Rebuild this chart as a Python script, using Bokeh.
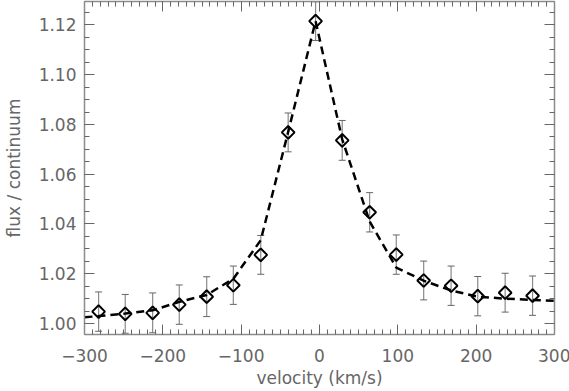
import numpy as np
from bokeh.plotting import figure
from bokeh.models import (ColumnDataSource, Whisker, TeeHead, LinearAxis, FixedTicker,
                          Range1d, CustomJSTickFormatter, CustomLabelingPolicy)
from bokeh.embed import file_html
from bokeh.resources import INLINE

# data points
vel = [-282, -248, -213, -179, -144, -110, -75, -40, -5, 29, 64, 98, 133, 168, 202, 237, 272]
flux = [1.0048, 1.0039, 1.0043, 1.0076, 1.0108, 1.0154, 1.0276, 1.0768, 1.1215, 1.0736,
        1.0447, 1.0277, 1.0173, 1.0152, 1.0110, 1.0124, 1.0112]
err = [0.0079, 0.0078, 0.0080, 0.0079, 0.0080, 0.0077, 0.0078, 0.0078, 0.0078, 0.0080,
       0.0079, 0.0079, 0.0078, 0.0079, 0.0079, 0.0078, 0.0079]

# model curve
model_v = [-300, -282, -248, -213, -179, -144, -110, -75, -40, -5, 29, 64, 98, 133, 168, 202, 237, 272, 300]
model_f = [1.0025, 1.0030, 1.0040, 1.0053, 1.0087, 1.0115, 1.0180, 1.0335, 1.0770, 1.1215, 1.0740,
           1.0410, 1.0225, 1.0172, 1.0133, 1.0108, 1.0100, 1.0095, 1.0091]

x_ticks = [-300, -200, -100, 0, 100, 200, 300]
x_minor = list(range(-300, 301, 10))
y_ticks = [1.00, 1.02, 1.04, 1.06, 1.08, 1.10, 1.12]
y_minor = [round(0.995 + 0.005 * i, 3) for i in range(28)]

FONT = "DejaVu Sans"
TXT = "#666666"

p = figure(frame_width=470, frame_height=333, output_backend="svg", toolbar_location=None,
           x_range=Range1d(-300, 300), y_range=Range1d(0.9956, 1.1294),
           min_border_left=82, min_border_right=16, min_border_top=1, min_border_bottom=50,
           x_axis_label="velocity (km/s)", y_axis_label="flux / continuum")
p.grid.visible = False
p.outline_line_color = None
p.background_fill_color = "white"
p.border_fill_color = "white"

src = ColumnDataSource(dict(x=vel, y=flux,
                            upper=[f + e for f, e in zip(flux, err)],
                            lower=[f - e for f, e in zip(flux, err)]))

wh = Whisker(source=src, base="x", upper="upper", lower="lower", dimension="height",
             line_color="#8a8a8a", line_width=1.2,
             upper_head=TeeHead(size=7, line_color="#666666", line_width=1),
             lower_head=TeeHead(size=7, line_color="#666666", line_width=1))
p.add_layout(wh)

p.line(model_v, model_f, line_color="black", line_width=2.5, line_dash="8 5")
p.scatter("x", "y", source=src, marker="square", angle=np.pi / 4, size=9,
          fill_color=None, line_color="black", line_width=2)

neg_fmt = CustomJSTickFormatter(code="return tick < 0 ? '\u2212' + Math.abs(tick) : String(tick);")
yfmt = CustomJSTickFormatter(code="return tick.toFixed(2);")
blank = CustomJSTickFormatter(code="return '';")
no_labels = CustomLabelingPolicy(code="const all = Array.from(indices); for (const i of all) { indices.unset(i); } return indices;")


def style(ax, ticks, minor, labels=True):
    ax.ticker = FixedTicker(ticks=ticks, minor_ticks=minor)
    ax.axis_line_color = "#8c8c8c"
    ax.axis_line_width = 1.5
    ax.major_tick_line_color = "#666666"
    ax.minor_tick_line_color = "#666666"
    ax.major_tick_in = 10
    ax.major_tick_out = 0
    ax.minor_tick_in = 5
    ax.minor_tick_out = 0
    if labels:
        ax.major_label_text_font = FONT
        ax.major_label_text_font_size = "17px"
        ax.major_label_text_color = TXT
        ax.axis_label_text_font = FONT
        ax.axis_label_text_font_size = "17px"
        ax.axis_label_text_font_style = "normal"
        ax.axis_label_text_color = TXT
    else:
        ax.formatter = blank
        ax.major_label_policy = no_labels
        ax.major_label_text_font_size = "1px"
        ax.major_label_standoff = 0
        ax.axis_label_standoff = 0


xa = p.xaxis[0]
style(xa, x_ticks, x_minor)
xa.formatter = neg_fmt
xa.major_label_standoff = 14
xa.axis_label_standoff = 3

ya = p.yaxis[0]
style(ya, y_ticks, y_minor)
ya.formatter = yfmt
ya.major_label_standoff = 8
ya.axis_label_standoff = 12

top = LinearAxis()
style(top, x_ticks, x_minor, labels=False)
p.add_layout(top, "above")
right = LinearAxis()
style(right, y_ticks, y_minor, labels=False)
p.add_layout(right, "right")

open("out.html", "w").write(file_html(p, INLINE))
